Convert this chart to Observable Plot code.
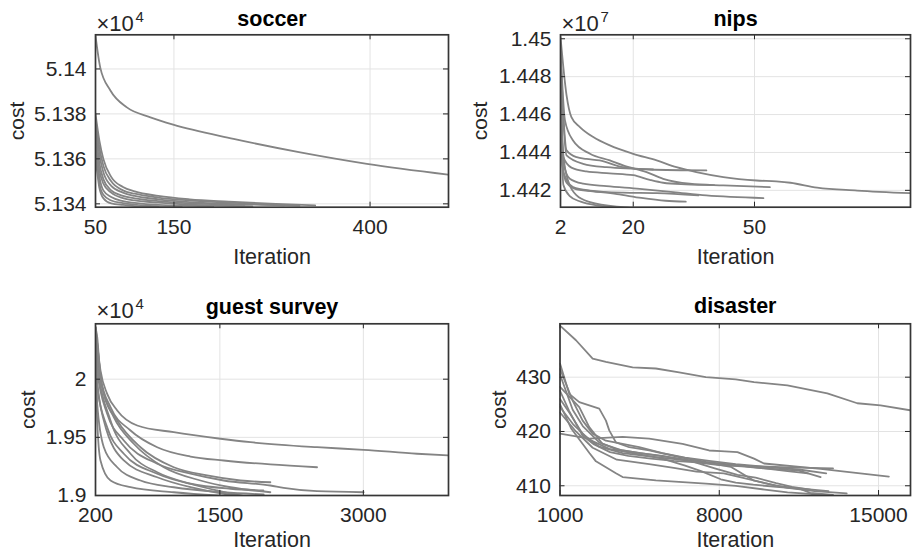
<!DOCTYPE html>
<html><head><meta charset="utf-8">
<script src="https://cdn.jsdelivr.net/npm/d3@7"></script>
<script src="https://cdn.jsdelivr.net/npm/@observablehq/plot@0.6"></script>
<style>
html,body{margin:0;padding:0;background:#fff;}
#root{position:relative;width:915px;height:559px;overflow:hidden;background:#fff;}
#root svg{position:absolute;left:0;top:0;}
</style></head><body><div id="root"></div>
<script>
// ---------- data (cost in axis units, i.e. cost / 10^exponent) ----------
const titles = ["soccer", "nips", "guest survey", "disaster"];
const exponents = ["4", "7", "4", null];

const soccerXTicks = [50, 150, 400];
const soccerYTicks = [5.134, 5.136, 5.138, 5.14];
const soccerRuns = [
  [[50,5.14148],[56,5.14007],[69,5.13904],[90,5.13829],[120,5.13785],[149,5.13752],[226,5.13689],[311,5.13629],[396,5.13578],[500,5.13530]],
  [[50,5.1380],[55,5.13680],[60,5.13600],[70,5.13520],[85,5.13475],[100,5.13455],[130,5.13435],[170,5.13420],[220,5.13410],[280,5.13400],[330,5.13393]],
  [[50,5.1378],[55,5.13650],[60,5.13570],[70,5.13500],[85,5.13460],[100,5.13445],[130,5.13428],[170,5.13415],[220,5.13405],[280,5.13396],[310,5.13392]],
  [[50,5.1376],[55,5.13620],[60,5.13540],[70,5.13480],[85,5.13450],[100,5.13435],[130,5.13420],[170,5.13408],[220,5.13400],[290,5.13393]],
  [[50,5.1373],[55,5.13580],[60,5.13510],[70,5.13460],[85,5.13435],[100,5.13424],[130,5.13412],[170,5.13402],[240,5.13396]],
  [[50,5.1370],[55,5.13550],[60,5.13490],[70,5.13450],[85,5.13425],[100,5.13415],[130,5.13405],[170,5.13396],[250,5.13389]],
  [[50,5.1367],[55,5.13520],[60,5.13460],[70,5.13430],[85,5.13412],[100,5.13404],[130,5.13395],[200,5.13389]],
  [[50,5.1364],[55,5.13490],[60,5.13440],[70,5.13415],[85,5.13403],[100,5.13396],[130,5.13389],[160,5.13386]],
  [[50,5.1361],[55,5.13470],[60,5.13425],[70,5.13402],[85,5.13395],[100,5.13390],[130,5.13386]]
];

const nipsXTicks = [2, 20, 50];
const nipsYTicks = [1.442, 1.444, 1.446, 1.448, 1.45];
const nipsRuns = [
  [[2,1.4501],[3.5,1.44701],[4.7,1.44586],[6.8,1.44534],[10.1,1.44481],[14.2,1.44437],[20,1.44393],[25.8,1.44358],[30.7,1.44322],[35.6,1.44296],[42.3,1.44270],[50.5,1.44252],[55.4,1.44247],[58.9,1.44240],[65.5,1.44214],[75.4,1.44199],[88.6,1.44185]],
  [[2,1.4496],[3.1,1.44569],[5.1,1.44463],[9.3,1.44393],[14.2,1.44358],[17.5,1.44332],[23.3,1.44296],[27.4,1.44261],[34,1.44235],[42.3,1.44226],[53.8,1.44217]],
  [[2,1.4492],[3.5,1.44411],[6,1.44375],[8.4,1.44366],[11.7,1.44358],[17.5,1.44322],[24.1,1.44310],[38.1,1.44305]],
  [[2,1.4488],[2.7,1.44349],[4.3,1.44261],[7.6,1.44235],[13.4,1.44222],[21.6,1.44208],[29.9,1.44191],[38.1,1.44173],[52.2,1.44159]],
  [[2,1.4484],[2.7,1.44296],[5.1,1.44217],[9.3,1.44199],[17.5,1.44188],[25.8,1.44185],[36.1,1.44173]],
  [[2,1.4486],[3.5,1.44384],[7.6,1.44340],[13.4,1.44322],[24.9,1.44310]],
  [[2,1.4478],[2.7,1.44375],[4.7,1.44320],[8.4,1.44300],[14.2,1.44290],[20,1.44280],[24.1,1.44255],[27.4,1.44240],[33,1.44232],[40,1.44228]],
  [[2,1.4480],[2.25,1.44516],[3.5,1.44278],[6,1.44173],[9.3,1.44138],[17.5,1.44111],[26,1.44100]],
  [[2,1.4474],[2.7,1.44230],[4.3,1.44170],[7,1.44140],[12,1.44118],[20,1.44105],[25,1.44100]],
  [[2,1.4470],[2.5,1.44330],[3.5,1.44240],[6,1.44205],[10,1.44195],[16,1.44180],[22,1.44160],[28,1.44145],[33,1.44140]]
];

const guestXTicks = [200, 1500, 3000];
const guestYTicks = [1.9, 1.95, 2];
const guestRuns = [
  [[200,2.0447],[252,2.0075],[322,1.9874],[427,1.9731],[636,1.9602],[1018,1.9544],[1506,1.9488],[1820,1.9458],[2516,1.9415],[3003,1.9393],[3561,1.9359],[3890,1.9344]],
  [[200,2.0447],[218,2.0361],[252,2.0017],[357,1.9759],[566,1.9559],[845,1.9415],[1193,1.9335],[1540,1.9301],[2028,1.9267],[2516,1.9243]],
  [[200,2.042],[218,2.0218],[287,1.9874],[427,1.9645],[670,1.9415],[1018,1.9243],[1367,1.9172],[1715,1.9129],[2028,1.9114]],
  [[200,2.040],[218,2.0075],[322,1.9702],[496,1.9473],[845,1.9273],[1193,1.9187],[1540,1.9129],[2028,1.9086],[2167,1.9066],[2516,1.9037],[3003,1.9028]],
  [[200,2.038],[218,1.9931],[322,1.9587],[496,1.9359],[845,1.9187],[1193,1.9101],[1611,1.9058],[1955,1.9043]],
  [[200,2.036],[218,1.9788],[287,1.9415],[427,1.9243],[670,1.9129],[1018,1.9071],[1540,1.9028],[1958,1.9009]],
  [[200,2.033],[218,1.9645],[252,1.9301],[357,1.9129],[566,1.9071],[1018,1.9028],[1472,1.9],[1700,1.899]],
  [[200,2.043],[218,2.0132],[357,1.9645],[566,1.9359],[845,1.9200],[1193,1.9101],[1472,1.9043],[1715,1.9],[1800,1.899]],
  [[200,2.041],[218,1.9989],[287,1.9645],[496,1.9301],[845,1.9157],[1193,1.9071],[1540,1.9015],[1820,1.8991]],
  [[200,2.0447],[218,2.0304],[270,1.9931],[391,1.9673],[600,1.9445],[914,1.9243],[1297,1.9129],[1611,1.9071],[2028,1.9028]]
];

const disasterXTicks = [1000, 8000, 15000];
const disasterYTicks = [410, 420, 430];
const disasterRuns = [
  [[1000,439.5],[1702,436.8],[2435,433.4],[3019,432.8],[4191,431.8],[5213,431.6],[6236,430.9],[7408,430.0],[8725,429.6],[9528,429.1],[10994,428.5],[12749,427.0],[14066,425.2],[15089,424.8],[16405,423.9]],
  [[1000,419.6],[2286,418.7],[3752,419.0],[4919,418.7],[6385,417.7],[7553,416.5],[8066,416.4],[8799,416.2],[9528,415.0],[9967,414.1],[12455,413.1],[15453,411.7]],
  [[1000,432.5],[1408,426.9],[1847,425.4],[2725,424.2],[3019,422.0],[3164,420.2],[3458,418.0],[4042,417.1],[4919,416.5],[6236,415.3],[7408,414.4],[8725,413.8],[10000,413.2],[11500,412.8],[12455,411.6]],
  [[1000,431.5],[1557,425.7],[1996,422.0],[2435,419.6],[3019,418.3],[4480,417.1],[5500,416.0],[6500,415.2],[7553,414.6],[8725,414.0],[9967,413.5],[11500,413.0],[12700,412.3]],
  [[1000,428.2],[1847,424.5],[2286,420.8],[2874,417.7],[3752,416.5],[4919,415.8],[6236,415.0],[7408,414.2],[8400,413.8],[9500,413.6],[11000,413.4],[13000,413.2]],
  [[1000,426.0],[1408,423.5],[2000,419.5],[2725,417.2],[3752,416.0],[4919,415.4],[6236,414.8],[7408,414.3],[8500,413.5],[9500,411.0],[10500,410.0],[11500,409.5],[12000,408.7],[13000,408.3]],
  [[1000,424.5],[1600,421.2],[2286,418.5],[3164,416.8],[4480,415.8],[5500,415.0],[6500,413.7],[7200,412.7],[8066,411.2],[8725,410.6],[9500,410.2],[10500,409.8],[11500,409.5],[12800,409.0]],
  [[1000,423.5],[1700,420.0],[2435,417.0],[3500,414.8],[4919,414.0],[6000,413.3],[7000,412.6],[8200,412.3],[9000,411.5],[10000,410.5],[11000,409.6],[12200,409.0],[13600,408.6]],
  [[1000,425.0],[1500,420.5],[2300,416.0],[2580,414.5],[3458,412.3],[3752,411.6],[5213,411.0],[7408,410.4],[8725,410.0],[10000,409.3],[11000,408.8],[12000,408.5],[12700,408.2]],
  [[1000,430.5],[1557,424.0],[2000,421.0],[2725,418.0],[3500,416.7],[4500,416.0],[5500,415.5],[6800,414.5],[7800,413.2],[8800,412.0],[9600,411.5],[10500,410.5],[11200,409.8],[12000,409.3]],
  [[1000,427.5],[1400,423.8],[1996,419.2],[2500,417.6],[3200,416.2],[4000,415.5],[5000,415.0],[6000,414.6],[7000,414.3],[8000,413.8],[9000,413.6],[10000,413.2],[11000,412.7],[11900,412.3]]
];

// ---------- drawing ----------
const FONT = '"Liberation Sans", Arial, Helvetica, sans-serif';
const INK = "#262626";
const root = document.getElementById("root");

function drawPanel(cfg) {
  const rows = cfg.runs.flatMap((run, i) => run.map(([it, cost]) => ({run: i, it, cost})));
  const f = cfg.frame;
  const fh = f.bottom - f.top, fw = f.right - f.left, tk = 5;
  const marks = [
    Plot.gridX(cfg.xTicks, {x: d => d, stroke: "#e3e3e3", strokeOpacity: 1}),
    Plot.gridY(cfg.yTicks, {y: d => d, stroke: "#e3e3e3", strokeOpacity: 1}),
    Plot.line(rows, {x: "it", y: "cost", z: "run", stroke: "#848484", strokeWidth: 1.8, curve: cfg.curve, clip: true}),
    Plot.tickX(cfg.xTicks, {x: d => d, insetTop: fh - tk, stroke: INK}),
    Plot.tickX(cfg.xTicks, {x: d => d, insetBottom: fh - tk, stroke: INK}),
    Plot.tickY(cfg.yTicks, {y: d => d, insetRight: fw - tk, stroke: INK}),
    Plot.tickY(cfg.yTicks, {y: d => d, insetLeft: fw - tk, stroke: INK}),
    Plot.frame({stroke: "#363636", strokeWidth: 1.7}),
    Plot.axisX({ticks: cfg.xTicks, tickSize: 0, tickPadding: 12, tickFormat: d => String(d), label: null, fontSize: 21}),
    Plot.axisY({ticks: cfg.yTicks, tickSize: 0, tickPadding: 9, tickFormat: d => String(d), label: null, fontSize: 21}),
    Plot.text([cfg.title], {text: d => d, frameAnchor: "top", textAnchor: "middle", lineAnchor: "bottom", dy: cfg.titleDy, fontWeight: "bold", fontSize: 21.5, fill: "#000"}),
    Plot.text(["cost"], {text: d => d, frameAnchor: "left", textAnchor: "middle", lineAnchor: "middle", dx: cfg.costDx, rotate: -90, fontSize: 21}),
    Plot.text(["Iteration"], {text: d => d, frameAnchor: "bottom", textAnchor: "middle", lineAnchor: "middle", dy: cfg.iterDy, fontSize: 21.5})
  ];
  if (cfg.exp) {
    marks.push(Plot.text(["×10"], {text: d => d, frameAnchor: "top-left", textAnchor: "start", lineAnchor: "bottom", dx: 1, dy: cfg.expDy, fontSize: 22}));
    marks.push(Plot.text([cfg.exp], {text: d => d, frameAnchor: "top-left", textAnchor: "start", lineAnchor: "bottom", dx: 40, dy: cfg.expDy - 9, fontSize: 15}));
  }
  const svg = Plot.plot({
    width: 915, height: 559,
    marginLeft: f.left, marginRight: 915 - f.right, marginTop: f.top, marginBottom: 559 - f.bottom,
    style: {fontFamily: FONT, fontSize: "21px", color: INK, background: "transparent", overflow: "visible"},
    x: {domain: cfg.xDomain, label: null},
    y: {domain: cfg.yDomain, label: null},
    marks
  });
  root.appendChild(svg);
}

drawPanel({title: titles[0], exp: exponents[0], runs: soccerRuns, xTicks: soccerXTicks, yTicks: soccerYTicks,
  xDomain: [50, 500], yDomain: [5.13385, 5.14152], curve: "monotone-x",
  frame: {left: 95, right: 448, top: 34.3, bottom: 206.7}, titleDy: -9, expDy: -4, costDx: -78, iterDy: 50});
drawPanel({title: titles[1], exp: exponents[1], runs: nipsRuns, xTicks: nipsXTicks, yTicks: nipsYTicks,
  xDomain: [2, 88.6], yDomain: [1.44111, 1.45021], curve: "monotone-x",
  frame: {left: 560, right: 910, top: 34.3, bottom: 206.7}, titleDy: -9, expDy: -4, costDx: -80, iterDy: 50});
drawPanel({title: titles[2], exp: exponents[2], runs: guestRuns, xTicks: guestXTicks, yTicks: guestYTicks,
  xDomain: [200, 3890], yDomain: [1.9, 2.0476], curve: "monotone-x",
  frame: {left: 95, right: 448, top: 323.3, bottom: 495}, titleDy: -10, expDy: -6, costDx: -67, iterDy: 45});
drawPanel({title: titles[3], exp: exponents[3], runs: disasterRuns, xTicks: disasterXTicks, yTicks: disasterYTicks,
  xDomain: [1000, 16405], yDomain: [408.21, 439.83], curve: "linear",
  frame: {left: 559.5, right: 910, top: 323.3, bottom: 495}, titleDy: -11, expDy: -6, costDx: -61, iterDy: 45});
</script></body></html>
